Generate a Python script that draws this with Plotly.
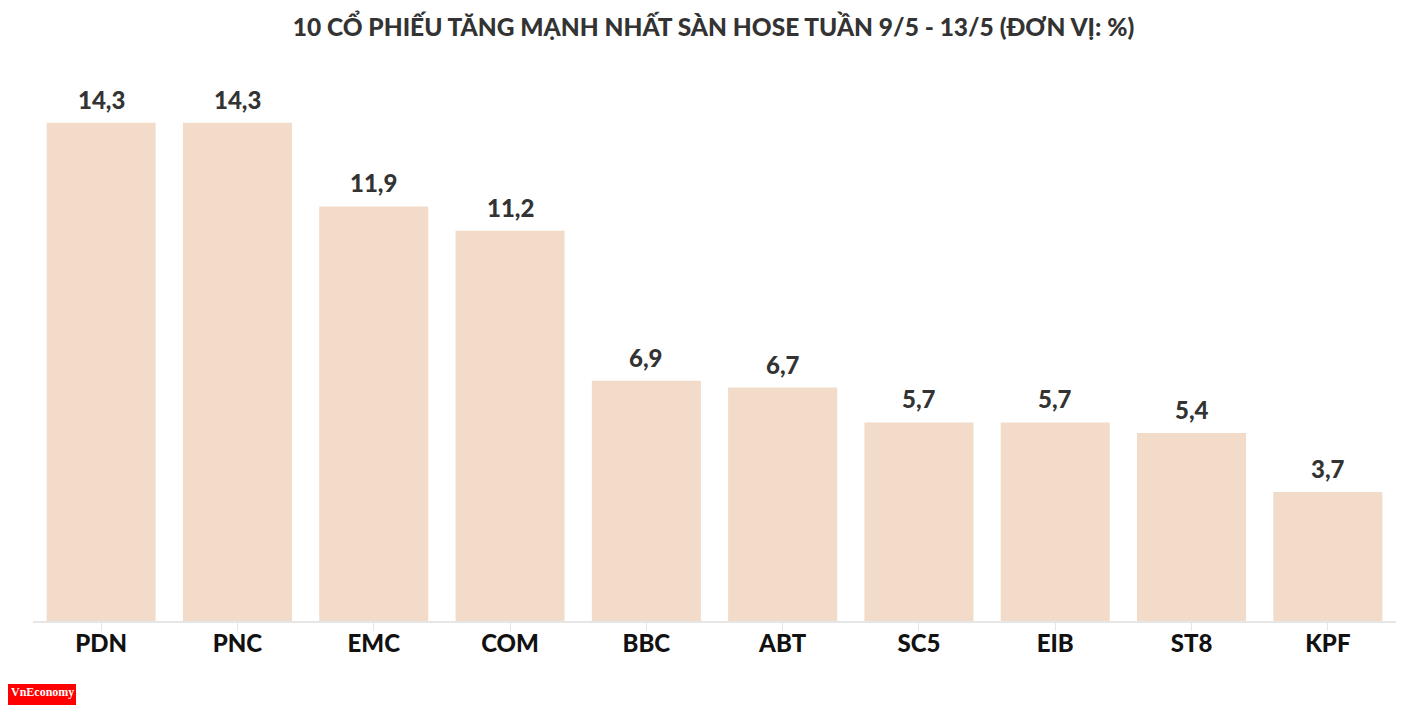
import plotly.graph_objects as go

categories = ["PDN", "PNC", "EMC", "COM", "BBC", "ABT", "SC5", "EIB", "ST8", "KPF"]
values = [14.3, 14.3, 11.9, 11.2, 6.9, 6.7, 5.7, 5.7, 5.4, 3.7]
labels = [f"{v:.1f}".replace(".", ",") for v in values]

title = "10 CỔ PHIẾU TĂNG MẠNH NHẤT SÀN HOSE TUẦN 9/5 - 13/5 (ĐƠN VỊ: %)"

fig = go.Figure(go.Bar(
    x=categories, y=values,
    marker=dict(color="#f2dbc8", line=dict(width=0)),
    hoverinfo="skip",
))

for c, v, t in zip(categories, values, labels):
    fig.add_annotation(x=c, y=v, text=t, showarrow=False, yanchor="bottom", yshift=7,
                       font=dict(family="Lato", size=24, color="#333333", weight=900))

fig.update_layout(
    width=1427, height=720,
    paper_bgcolor="white", plot_bgcolor="white",
    margin=dict(l=25, r=39, t=72, b=107),
    bargap=0.2,
    showlegend=False,
    title=dict(text=title, x=(713.5 - 8) / 1427, xanchor="center", y=1 - 19 / 720, yanchor="middle",
               font=dict(family="Lato", size=24.5, color="#333333", weight=900)),
    xaxis=dict(showline=True, linecolor="#e6e6e6", linewidth=2,
               ticks="outside", ticklen=8, tickcolor="#e6e6e6", tickwidth=1,
               ticklabelstandoff=-8,
               tickfont=dict(family="Lato", size=24, color="#111111", weight=900),
               showgrid=False),
    yaxis=dict(range=[0, 15.53], visible=False, showgrid=False, zeroline=False),
)

fig.add_shape(type="rect", xref="paper", yref="paper",
              x0=-25 / 1363, x1=43 / 1363, y0=-84 / 541, y1=-63 / 541,
              fillcolor="#ff0000", line=dict(width=0))
fig.add_annotation(xref="paper", yref="paper", x=9 / 1363, y=-71 / 541,
                   text="VnEconomy", showarrow=False,
                   font=dict(family="Liberation Serif", size=12, color="white", weight="bold"),
                   xanchor="center", yanchor="middle")

fig.write_html("out.html")
